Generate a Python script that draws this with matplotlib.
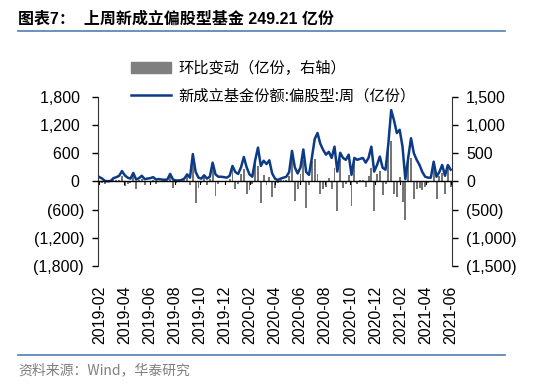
import numpy as np
import matplotlib.pyplot as plt
from matplotlib.patches import Patch
from matplotlib.lines import Line2D

plt.rcParams['font.family'] = ['Liberation Sans', 'Noto Sans CJK SC', 'DejaVu Sans']

# Datos (semanal, 2019-02 a 2021-06)
tick_labels = ['2019-02', '2019-04', '2019-06', '2019-08', '2019-10', '2019-12',
               '2020-02', '2020-04', '2020-06', '2020-08', '2020-10', '2020-12',
               '2021-02', '2021-04', '2021-06']

# nuevo fondo: participaciones por semana (eje izquierdo)
new_share = [93, 60, 10, 5, 10, 70, 90, 120, 220, 130,
             80, 60, 180, 40, 70, 120, 50, 60, 70, 90,
             40, 50, 40, 35, 40, 160, 40, 20, 20, 30,
             60, 150, 80, 580, 200, 80, 60, 130, 60, 100,
             400, 150, 100, 100, 90, 80, 120, 330, 200, 160,
             300, 520, 300, 150, 100, 450, 720, 330, 440, 370,
             450, 170, 60, 30, 60, 80, 100, 200, 650, 300,
             170, 300, 680, 200, 140, 500, 900, 1030, 800, 670,
             570, 630, 500, 740, 210, 610, 500, 460, 570, 140,
             500, 460, 480, 500, 400, 500, 740, 210, 350, 530,
             290, 250, 800, 1520, 1300, 1030, 1100, 740, 50, 500,
             920, 600, 460, 350, 200, 100, 80, 80, 420, 100,
             200, 350, 120, 350, 250]

# variacion semanal (eje derecho)
change = [-20, -33, -50, -5, 5, 60, 20, 30, 100, -90,
          -50, -20, 120, -140, 30, 50, -70, 10, 10, 20,
          -50, 10, -10, -5, 5, 120, -120, -20, 0, 10,
          30, 90, -70, 500, -380, -120, -20, 70, -70, 40,
          300, -250, -50, 0, -10, -10, 40, 210, -130, -40,
          140, 220, -220, -150, -50, 350, 270, -390, 110, -70,
          80, -280, -110, -30, 30, 20, 20, 100, 450, -350,
          -130, 130, 380, -480, -60, 360, 400, 130, -230, -130,
          -100, 60, -130, 240, -530, 400, -110, -40, 110, -430,
          360, -40, 20, 20, -100, 100, 240, -530, 140, 180,
          -240, -40, 550, 720, -220, -270, 70, -360, -690, 450,
          420, -320, -140, -110, -150, -100, -20, 0, 340, -320,
          100, 150, -230, 230, -100]

x = np.arange(len(new_share))

fig = plt.figure(figsize=(5.5, 3.86), dpi=100)
ax = fig.add_axes([0.178, 0.311, 0.644, 0.438])
ax2 = ax.twinx()

# Barras (eje derecho) y linea (eje izquierdo)
ax2.bar(x, change, width=0.7, color='#767676')
ax.plot(x, new_share, color='#0b3a86', linewidth=1.8)
ax.set_zorder(ax2.get_zorder() + 1)
ax.patch.set_visible(False)

ax.set_xlim(-0.5, len(x) - 0.5)
ax.set_ylim(-1800, 1800)
ax2.set_ylim(-1500, 1500)

left_ticks = [1800, 1200, 600, 0, -600, -1200, -1800]
right_ticks = [1500, 1000, 500, 0, -500, -1000, -1500]


def fmt(v):
    return '({:,})'.format(-v) if v < 0 else '{:,} '.format(v)


ax.set_yticks(left_ticks)
ax.set_yticklabels([fmt(v) for v in left_ticks])
ax2.set_yticks(right_ticks)
ax2.set_yticklabels(['({:,})'.format(-v) if v < 0 else '{:,}'.format(v) for v in right_ticks])

for a in (ax, ax2):
    for s in ['top', 'bottom']:
        a.spines[s].set_visible(False)
    a.tick_params(axis='y', labelsize=11.5, length=4, width=1, pad=6, colors='#000000')
ax.spines['left'].set_color('#333333')
ax2.spines['right'].set_color('#333333')
ax2.spines['left'].set_visible(False)
ax.spines['right'].set_visible(False)

# Linea cero con marcas
pos = np.linspace(0, len(x) - 1, len(tick_labels))
ax.axhline(0, color='#000000', linewidth=1, zorder=3)
ax.set_xticks(pos)
ax.set_xticklabels(tick_labels, rotation=90)
ax.tick_params(axis='x', length=0, labelsize=11.5, pad=14)
for p in pos:
    ax.plot([p, p], [0, -60], color='#000000', linewidth=0.8)

# Leyenda
handles = [Patch(color='#7f7f7f'), Line2D([], [], color='#0b3a86', linewidth=1.8)]
labels = ['环比变动（亿份，右轴）', '新成立基金份额:偏股型:周（亿份）']
fig.legend(handles, labels, loc='upper left', bbox_to_anchor=(0.225, 0.865),
           frameon=False, handlelength=2.6, handletextpad=0.45,
           labelspacing=0.7, borderpad=0, prop={'family': ['Noto Sans CJK SC'], 'size': 11})

# Titulo, lineas y fuente
fig.text(0.033, 0.952, '图表7：  上周新成立偏股型基金 249.21 亿份', fontsize=11.5,
         fontweight='bold', va='center', ha='left')
fig.add_artist(Line2D([0.033, 0.918], [0.920, 0.920], color='#4f7fb5', linewidth=1.2))
fig.add_artist(Line2D([0.033, 0.918], [0.080, 0.080], color='#4f7fb5', linewidth=1.2))
fig.text(0.033, 0.040, '资料来源：Wind，华泰研究', fontsize=10, color='#7f7f7f',
         va='center', ha='left', family=['Noto Sans CJK SC'])

plt.savefig('out.png', dpi=100)
